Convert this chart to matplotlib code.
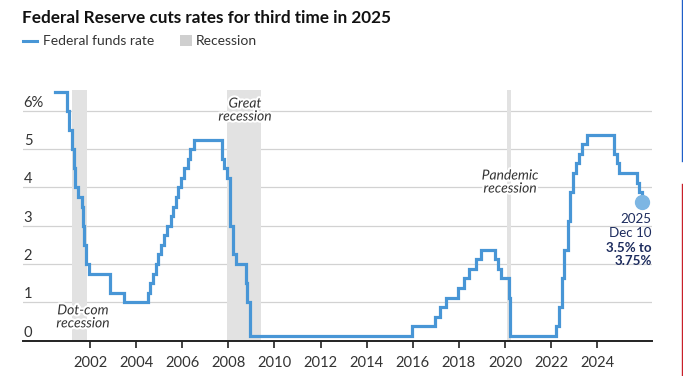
import matplotlib
matplotlib.use('Agg')
import matplotlib.pyplot as plt
import matplotlib.dates as mdates
import matplotlib.patheffects as pe
from matplotlib import transforms
import pandas as pd

# Federal funds target (midpoint of range after Dec 2008)
dates = ['2000-07-01', '2001-01-03', '2001-01-31', '2001-03-20', '2001-04-18', '2001-05-15',
         '2001-06-27', '2001-08-21', '2001-09-17', '2001-10-02', '2001-11-06', '2001-12-11',
         '2002-11-06', '2003-06-25', '2004-06-30', '2004-08-10', '2004-09-21', '2004-11-10',
         '2004-12-14', '2005-02-02', '2005-03-22', '2005-05-03', '2005-06-30', '2005-08-09',
         '2005-09-20', '2005-11-01', '2005-12-13', '2006-01-31', '2006-03-28', '2006-05-10',
         '2006-06-29', '2007-09-18', '2007-10-31', '2007-12-11', '2008-01-22', '2008-01-30',
         '2008-03-18', '2008-04-30', '2008-10-08', '2008-10-29', '2008-12-16', '2015-12-16',
         '2016-12-14', '2017-03-15', '2017-06-14', '2017-12-13', '2018-03-21', '2018-06-13',
         '2018-09-26', '2018-12-19', '2019-07-31', '2019-09-18', '2019-10-30', '2020-03-03',
         '2020-03-15', '2022-03-16', '2022-05-04', '2022-06-15', '2022-07-27', '2022-09-21',
         '2022-11-02', '2022-12-14', '2023-02-01', '2023-03-22', '2023-05-03', '2023-07-26',
         '2024-09-18', '2024-11-07', '2024-12-18', '2025-09-17', '2025-10-29', '2025-12-10']
rates = [6.5, 6.0, 5.5, 5.0, 4.5, 4.0,
         3.75, 3.5, 3.0, 2.5, 2.0, 1.75,
         1.25, 1.0, 1.25, 1.5, 1.75, 2.0,
         2.25, 2.5, 2.75, 3.0, 3.25, 3.5,
         3.75, 4.0, 4.25, 4.5, 4.75, 5.0,
         5.25, 4.75, 4.5, 4.25, 3.5, 3.0,
         2.25, 2.0, 1.5, 1.0, 0.125, 0.375,
         0.625, 0.875, 1.125, 1.375, 1.625, 1.875,
         2.125, 2.375, 2.125, 1.875, 1.625, 1.125,
         0.125, 0.375, 0.875, 1.625, 2.375, 3.125,
         3.875, 4.375, 4.625, 4.875, 5.125, 5.375,
         4.875, 4.625, 4.375, 4.125, 3.875, 3.625]

recessions = [('2001-03-15', '2001-11-15'), ('2007-12-10', '2009-06-01'), ('2020-02-05', '2020-04-05')]
rec_labels = ['Dot-com\nrecession', 'Great\nrecession', 'Pandemic\nrecession']
rec_label_pos = [('2001-09-10', 0.62), ('2008-09-20', 6.02), ('2020-03-20', 4.14)]

yticks = [0, 1, 2, 3, 4, 5, 6]
ylabels = ['0', '1', '2', '3', '4', '5', '6%']
xyears = [2002, 2004, 2006, 2008, 2010, 2012, 2014, 2016, 2018, 2020, 2022, 2024]

blue = '#4896d6'
grey_band = '#e2e2e2'
text_c = '#333333'
navy = '#1d2c5e'

plt.rcParams['font.family'] = ['Lato', 'DejaVu Sans']

fig = plt.figure(figsize=(6.83, 3.76), dpi=100)
ax = fig.add_axes([0.0332, 0.0941, 0.9209, 0.6672])

x = pd.to_datetime(dates)
ax.step(x, rates, where='post', color=blue, lw=2.3, zorder=3, solid_joinstyle='miter')
ax.plot(x[-1], rates[-1], 'o', color='#7db6e3', ms=10, zorder=4)

for (a, b) in recessions:
    ax.axvspan(pd.Timestamp(a), pd.Timestamp(b), color=grey_band, lw=0, zorder=1)

halo = [pe.withStroke(linewidth=3, foreground='white')]
for lab, (d, yv) in zip(rec_labels, rec_label_pos):
    ax.text(pd.Timestamp(d), yv, lab, ha='center', va='center', fontsize=10,
            style='italic', color=text_c, linespacing=1.1, path_effects=halo, zorder=2)

for v in yticks[1:]:
    ax.axhline(v, color='#d2d2d2', lw=0.9, zorder=0)

off = transforms.offset_copy(ax.get_yaxis_transform(), fig=fig, x=1, y=4, units='dots')
for v, lab in zip(yticks, ylabels):
    ax.text(0, v, lab, transform=off, ha='left', va='baseline', fontsize=10.6, color=text_c)

ax.set_xlim(pd.Timestamp('1999-01-30'), pd.Timestamp('2026-05-12'))
ax.set_ylim(0, 6.55)
ax.set_yticks([])
ax.set_xticks([pd.Timestamp(f'{y}-01-01') for y in xyears])
ax.xaxis.set_major_formatter(mdates.DateFormatter('%Y'))
ax.tick_params(axis='x', length=5, width=1.2, color='#222222', labelsize=10.6,
               labelcolor=text_c, pad=6)
for s in ['top', 'right', 'left']:
    ax.spines[s].set_visible(False)
ax.spines['bottom'].set_color('#222222')
ax.spines['bottom'].set_linewidth(1.4)

# end annotation
ax.text(pd.Timestamp('2026-05-12'), 2.99, '2025\nDec 10', ha='right', va='center',
        fontsize=9.6, color=navy, linespacing=1.15)
ax.text(pd.Timestamp('2026-05-12'), 2.25, '3.5% to\n3.75%', ha='right', va='center',
        fontsize=9.6, color=navy, fontweight='bold', linespacing=1.15)

# title and legend
fig.text(22 / 683, 1 - 23 / 376, 'Federal Reserve cuts rates for third time in 2025',
         fontsize=12.3, fontweight='bold', color='#111111', va='baseline')
fig.add_artist(plt.Line2D([23 / 683, 37 / 683], [1 - 41 / 376] * 2, color=blue, lw=2.2))
fig.text(43 / 683, 1 - 41 / 376, 'Federal funds rate', fontsize=10, color=text_c, va='center')
fig.add_artist(plt.Rectangle((180 / 683, 1 - 46 / 376), 12 / 683, 11 / 376,
                             color='#cfcfcf', lw=0))
fig.text(196 / 683, 1 - 41 / 376, 'Recession', fontsize=10, color=text_c, va='center')

# page edge markers
fig.add_artist(plt.Line2D([682.3 / 683] * 2, [1, 1 - 161 / 376], color='#1f5fc8', lw=1))
fig.add_artist(plt.Line2D([682.3 / 683] * 2, [1 - 184 / 376, 0], color='#c8202a', lw=1))

fig.savefig('out.png', dpi=100)
